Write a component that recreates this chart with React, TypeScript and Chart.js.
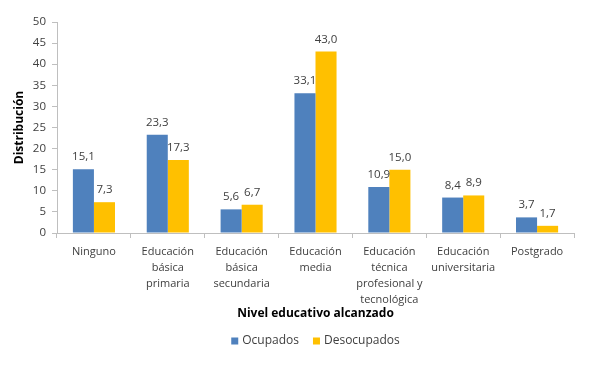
import React, { useEffect, useRef } from "react";
import { Chart, registerables } from "chart.js";

Chart.register(...registerables);

const categories: string[][] = [
  ["Ninguno"],
  ["Educación", "básica", "primaria"],
  ["Educación", "básica", "secundaria"],
  ["Educación", "media"],
  ["Educación", "técnica", "profesional y", "tecnológica"],
  ["Educación", "universitaria"],
  ["Postgrado"],
];
const ocupados = [15.1, 23.3, 5.6, 33.1, 10.9, 8.4, 3.7];
const desocupados = [7.3, 17.3, 6.7, 43.0, 15.0, 8.9, 1.7];
const seriesNames = ["Ocupados", "Desocupados"];
const seriesColors = ["#4F81BD", "#FFC000"];
const xTitle = "Nivel educativo alcanzado";
const yTitle = "Distribución";

const FONT = "'Open Sans', 'Noto Sans', sans-serif";
const TEXT = "#404040";
const AXIS = "#bfbfbf";

const labelPlugin = {
  id: "valueLabels",
  afterDatasetsDraw(chart: any) {
    const ctx = chart.ctx;
    ctx.save();
    ctx.font = `11.5px ${FONT}`;
    ctx.fillStyle = TEXT;
    ctx.textAlign = "center";
    ctx.textBaseline = "alphabetic";
    chart.data.datasets.forEach((ds: any, i: number) => {
      const meta = chart.getDatasetMeta(i);
      meta.data.forEach((el: any, j: number) => {
        const v = ds.data[j] as number;
        ctx.fillText(v.toFixed(1).replace(".", ","), el.x, el.y - 9);
      });
    });
    ctx.restore();
  },
};

const yTitlePlugin = {
  id: "yTitle",
  afterDraw(chart: any) {
    const ctx = chart.ctx;
    const a = chart.chartArea;
    ctx.save();
    ctx.translate(a.left - 37, (a.top + a.bottom) / 2);
    ctx.rotate(-Math.PI / 2);
    ctx.font = `bold 12px ${FONT}`;
    ctx.fillStyle = "#000";
    ctx.textAlign = "center";
    ctx.textBaseline = "middle";
    ctx.fillText(yTitle, 0, 0);
    ctx.restore();
  },
};

const legendPlugin = {
  id: "customLegend",
  afterDraw(chart: any) {
    const ctx = chart.ctx;
    const a = chart.chartArea;
    ctx.save();
    ctx.font = `12px ${FONT}`;
    ctx.textBaseline = "middle";
    ctx.textAlign = "left";
    const box = 7;
    const gapText = 4;
    const gapItem = 14;
    const widths = seriesNames.map((n) => box + gapText + ctx.measureText(n).width);
    const total = widths.reduce((s, w) => s + w, 0) + gapItem * (widths.length - 1);
    let x = (a.left + a.right) / 2 - total / 2;
    const y = a.bottom + 108;
    seriesNames.forEach((n, i) => {
      ctx.fillStyle = seriesColors[i];
      ctx.fillRect(x, y - box / 2, box, box);
      ctx.fillStyle = TEXT;
      ctx.fillText(n, x + box + gapText, y);
      x += widths[i] + gapItem;
    });
    ctx.restore();
  },
};

export default function App() {
  const ref = useRef<HTMLCanvasElement>(null);
  useEffect(() => {
    if (!ref.current) return;
    const chart = new Chart(ref.current, {
      type: "bar",
      data: {
        labels: categories,
        datasets: seriesNames.map((name, i) => ({
          label: name,
          data: i === 0 ? ocupados : desocupados,
          backgroundColor: seriesColors[i],
          categoryPercentage: 0.57,
          barPercentage: 1,
        })),
      },
      options: {
        responsive: false,
        animation: false,
        layout: { padding: { left: 10, right: 37, top: 22, bottom: 41 } },
        plugins: {
          legend: { display: false },
          tooltip: { enabled: false },
        },
        scales: {
          x: {
            grid: {
              offset: true,
              drawOnChartArea: false,
              tickLength: 5,
              color: AXIS,
            },
            border: { color: AXIS },
            ticks: {
              color: TEXT,
              padding: 6,
              maxRotation: 0,
              autoSkip: false,
              font: { family: FONT, size: 11, lineHeight: 1.45 },
            },
            title: {
              display: true,
              text: xTitle,
              color: "#000",
              font: { family: FONT, size: 12, weight: "bold" },
              padding: { top: 0, bottom: 3 },
            },
            afterFit(scale: any) {
              scale.height = 91;
            },
          },
          y: {
            min: 0,
            max: 50,
            ticks: {
              stepSize: 5,
              color: TEXT,
              padding: 6,
              font: { family: FONT, size: 11.5 },
            },
            grid: {
              drawOnChartArea: false,
              tickLength: 5,
              color: AXIS,
            },
            border: { color: AXIS },
            afterFit(scale: any) {
              scale.width = 47;
            },
          },
        },
      },
      plugins: [labelPlugin, yTitlePlugin, legendPlugin],
    } as any);
    return () => chart.destroy();
  }, []);
  return (
    <div style={{ position: "fixed", left: 0, top: 0, width: 611, height: 365, background: "#fff" }}>
      <canvas ref={ref} width={611} height={365} style={{ display: "block" }} />
    </div>
  );
}
